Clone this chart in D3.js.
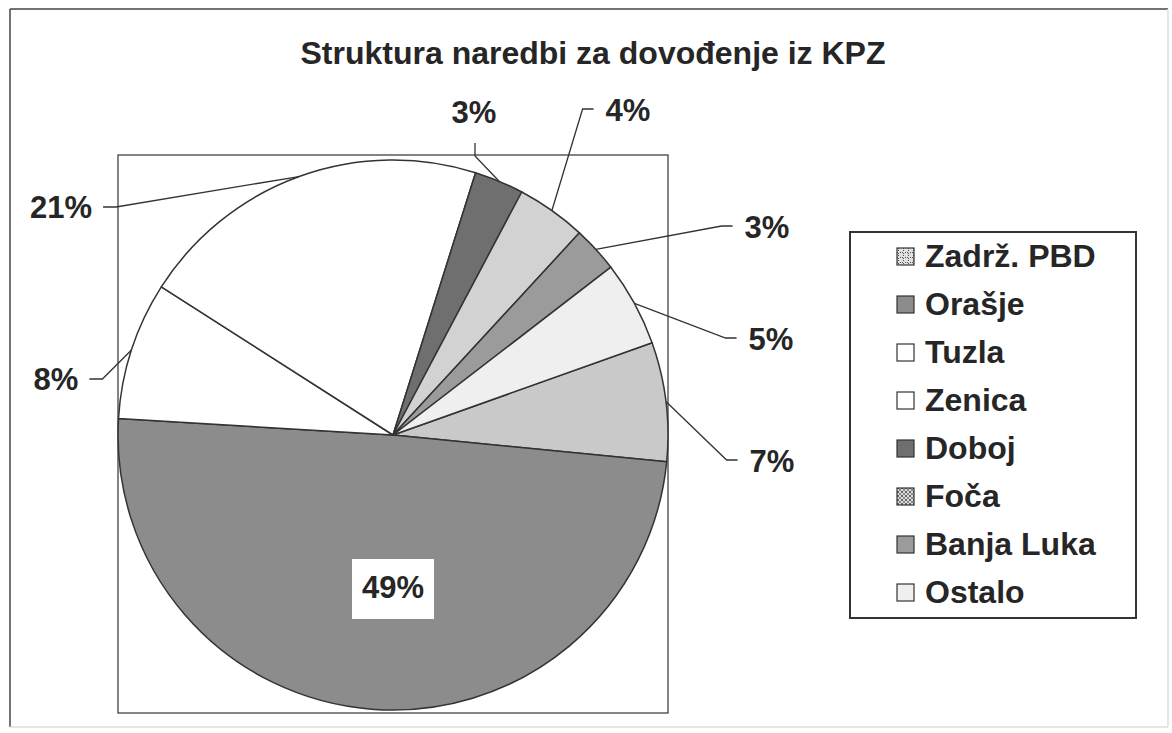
<!DOCTYPE html>
<html>
<head>
<meta charset="utf-8">
<script src="https://cdn.jsdelivr.net/npm/d3@7"></script>
<style>
  body { margin: 0; background: #fff; }
  text { font-family: "Liberation Sans", Arial, sans-serif; font-weight: bold; fill: #262626; }
</style>
</head>
<body>
<div id="chart"></div>
<script>
var width = 1172;
var height = 733;

// data (shares in %)
var categories = ["Zadrž. PBD", "Orašje", "Tuzla", "Zenica", "Doboj", "Foča", "Banja Luka", "Ostalo"];
var shares = [7.0, 49.4, 8.1, 20.8, 2.9, 4.1, 2.7, 5.0];
var title = "Struktura naredbi za dovođenje iz KPZ";

// look
var fills = ["#c9c9c9", "#8c8c8c", "#ffffff", "#ffffff", "#6f6f6f", "#d2d2d2", "#9b9b9b", "#efefef"];
// where each percentage label sits (centre x, baseline y) and which side its leader joins
var labelSpots = [
    {x: 772, y: 472, side: "left"},
    {x: 393, y: 598, side: "box"},
    {x: 56, y: 390, side: "right"},
    {x: 61, y: 218, side: "right"},
    {x: 474, y: 123, side: "bottom"},
    {x: 628, y: 121, side: "left"},
    {x: 767, y: 238, side: "left"},
    {x: 771, y: 350, side: "left"}
];

var cx = 393, cy = 435, radius = 275;
var startDeg = 70.4;

var svg = d3.select("#chart").append("svg")
    .attr("width", width)
    .attr("height", height);

// outer chart frame
svg.append("line").attr("x1", 10).attr("y1", 9).attr("x2", 1168).attr("y2", 9)
    .attr("stroke", "#444").attr("stroke-width", 1.5);
svg.append("line").attr("x1", 10).attr("y1", 9).attr("x2", 10).attr("y2", 727)
    .attr("stroke", "#444").attr("stroke-width", 1.5);
svg.append("line").attr("x1", 1168).attr("y1", 9).attr("x2", 1168).attr("y2", 727)
    .attr("stroke", "#ddd").attr("stroke-width", 1.5);
svg.append("line").attr("x1", 10).attr("y1", 727).attr("x2", 1168).attr("y2", 727)
    .attr("stroke", "#ddd").attr("stroke-width", 1.5);

// plot area box
svg.append("rect")
    .attr("x", cx - radius).attr("y", 155)
    .attr("width", radius * 2).attr("height", 558)
    .attr("fill", "none").attr("stroke", "#333").attr("stroke-width", 1.2);

svg.append("text")
    .attr("x", 593).attr("y", 64)
    .attr("text-anchor", "middle")
    .style("font-size", "32px")
    .text(title);

var pie = d3.pie()
    .sort(null)
    .value(function (d) { return d; })
    .startAngle(startDeg * Math.PI / 180)
    .endAngle(startDeg * Math.PI / 180 + 2 * Math.PI);

var arcs = pie(shares);

var arc = d3.arc().innerRadius(0).outerRadius(radius);
var rim = d3.arc().innerRadius(radius).outerRadius(radius);

var g = svg.append("g").attr("transform", "translate(" + cx + "," + cy + ")");

g.selectAll("path")
    .data(arcs)
    .enter().append("path")
    .attr("d", arc)
    .attr("fill", function (d, i) { return fills[i]; })
    .attr("stroke", "#333")
    .attr("stroke-width", 1.5)
    .attr("stroke-linejoin", "round");

// percentage labels with leader lines
var labels = svg.append("g");

arcs.forEach(function (d, i) {
    var spot = labelSpots[i];
    var txt = labels.append("text")
        .attr("x", spot.x).attr("y", spot.y)
        .attr("text-anchor", "middle")
        .style("font-size", "31px")
        .text(Math.round(shares[i]) + "%");

    var w = txt.node().getComputedTextLength();
    var left = spot.x - w / 2, right = spot.x + w / 2;
    var edge = rim.centroid(d);
    var p0 = [cx + edge[0], cy + edge[1]];
    var pts;

    if (spot.side === "box") {
        labels.insert("rect", "text")
            .attr("x", left - 10).attr("y", spot.y - 39)
            .attr("width", w + 20).attr("height", 60)
            .attr("fill", "#fff");
        return;
    } else if (spot.side === "left") {
        pts = [p0, [left - 23, spot.y - 12], [left - 12, spot.y - 12]];
    } else if (spot.side === "right") {
        pts = [p0, [right + 24, spot.y - 11], [right + 11, spot.y - 11]];
    } else {
        pts = [p0, [spot.x + 1, spot.y + 33], [spot.x + 1, spot.y + 20]];
    }

    labels.append("path")
        .attr("d", d3.line()(pts))
        .attr("fill", "none")
        .attr("stroke", "#333")
        .attr("stroke-width", 1.3);
});

// legend
var defs = svg.append("defs");

var hatch = defs.append("pattern")
    .attr("id", "pat0").attr("width", 5).attr("height", 5)
    .attr("patternUnits", "userSpaceOnUse");
hatch.append("rect").attr("width", 5).attr("height", 5).attr("fill", "#e0e0e0");
hatch.append("path").attr("d", "M0,0 L2,2 M3,1 L4,0 M1,4 L2,3").attr("stroke", "#555").attr("stroke-width", 1);

var checks = defs.append("pattern")
    .attr("id", "pat5").attr("width", 4).attr("height", 4)
    .attr("patternUnits", "userSpaceOnUse");
checks.append("rect").attr("width", 4).attr("height", 4).attr("fill", "#ddd");
checks.append("rect").attr("width", 2).attr("height", 2).attr("fill", "#666");
checks.append("rect").attr("x", 2).attr("y", 2).attr("width", 2).attr("height", 2).attr("fill", "#888");

var swatchFill = fills.slice();
swatchFill[0] = "url(#pat0)";
swatchFill[5] = "url(#pat5)";

svg.append("rect")
    .attr("x", 850).attr("y", 232)
    .attr("width", 286).attr("height", 386)
    .attr("fill", "#fff").attr("stroke", "#333").attr("stroke-width", 2);

var legend = svg.append("g").selectAll("g")
    .data(categories)
    .enter().append("g")
    .attr("transform", function (d, i) { return "translate(897," + (267 + i * 48) + ")"; });

legend.append("rect")
    .attr("x", 0).attr("y", -19)
    .attr("width", 17).attr("height", 17)
    .attr("fill", function (d, i) { return swatchFill[i]; })
    .attr("stroke", "#333").attr("stroke-width", 1.2);

legend.append("text")
    .attr("x", 28).attr("y", 0)
    .style("font-size", "32px")
    .text(function (d) { return d; });
</script>
</body>
</html>
